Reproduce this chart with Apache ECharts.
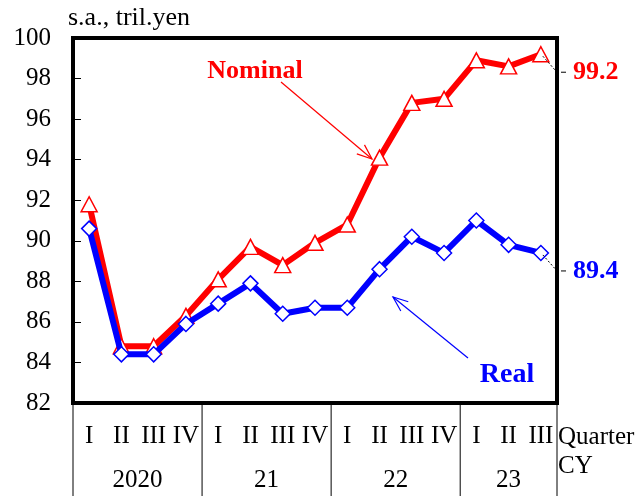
<!DOCTYPE html>
<html><head><meta charset="utf-8">
<script src="https://cdn.jsdelivr.net/npm/echarts@6/dist/echarts.min.js"></script>
<style>html,body{margin:0;padding:0;background:#fff}#c{width:636px;height:496px}</style>
</head><body><div id="c"></div>
<script>
var quarters = ['I','II','III','IV','I','II','III','IV','I','II','III','IV','I','II','III'];
var years = ['2020','21','22','23'];
var yearStart = [0,4,8,12];
var yearEnd = [3,7,11,14];
var nominal = [91.8,84.8,84.8,86.3,88.1,89.7,88.8,89.9,90.8,94.1,96.8,97.0,98.9,98.6,99.2];
var real = [90.6,84.4,84.4,85.9,86.9,87.9,86.4,86.7,86.7,88.6,90.2,89.4,91.0,89.8,89.4];
var yTicks = {min:82,max:100,interval:2};
var FONT = 'Liberation Serif';

var chart = echarts.init(document.getElementById('c'), null, {renderer:'canvas'});
var option = {
  animation:false,
  backgroundColor:'#fff',
  grid:{left:73,right:79,top:38,bottom:93,show:true,borderColor:'#000',borderWidth:4,backgroundColor:'transparent'},
  xAxis:{type:'category',data:quarters,boundaryGap:true,
    axisLine:{show:false},axisTick:{show:false},
    axisLabel:{fontFamily:FONT,fontSize:25,color:'#000',margin:21,interval:0}},
  yAxis:{type:'value',min:yTicks.min,max:yTicks.max,interval:yTicks.interval,
    axisLine:{show:false},splitLine:{show:false},
    axisTick:{show:true,inside:true,length:8,lineStyle:{color:'#000',width:1}},
    axisLabel:{fontFamily:FONT,fontSize:25,color:'#000',margin:22}},
  series:[
    {name:'Nominal',type:'line',data:nominal,z:2,
     lineStyle:{color:'#ff0000',width:6},
     symbol:'triangle',symbolSize:[16,15],showAllSymbol:true,
     itemStyle:{color:'#fff',borderColor:'#ff0000',borderWidth:1.5}},
    {name:'Real',type:'line',data:real,z:3,
     lineStyle:{color:'#0000ff',width:6},
     symbol:'diamond',symbolSize:[15,15],showAllSymbol:true,
     itemStyle:{color:'#fff',borderColor:'#0000ff',borderWidth:1.5}}
  ]
};
chart.setOption(option);

function px(i,v){return chart.convertToPixel({gridIndex:0},[i,v]);}
var g = [];
var gr = chart.getModel().getComponent('grid',0).coordinateSystem.getRect();
var left = gr.x, right = gr.x+gr.width, bottom = gr.y+gr.height;
var band = gr.width/quarters.length;
// table lines
var bounds = [left];
for (var k=0;k<years.length;k++){ bounds.push(left + (yearEnd[k]+1)*band); }
bounds.forEach(function(x){
  g.push({type:'line',shape:{x1:x,y1:bottom,x2:x,y2:496},style:{stroke:'#000',lineWidth:1}});
});
for (var k=0;k<years.length;k++){
  var x0 = left + yearStart[k]*band, x1 = left + (yearEnd[k]+1)*band;
  g.push({type:'text',x:(x0+x1)/2,y:480,style:{text:years[k],font:'25px "'+FONT+'"',fill:'#000',textAlign:'center',textVerticalAlign:'middle'}});
}
g.push({type:'text',x:right+1,y:437,style:{text:'Quarter',font:'25px "'+FONT+'"',fill:'#000',textAlign:'left',textVerticalAlign:'middle'}});
g.push({type:'text',x:right+1,y:466,style:{text:'CY',font:'25px "'+FONT+'"',fill:'#000',textAlign:'left',textVerticalAlign:'middle'}});
g.push({type:'text',x:68,y:18,style:{text:'s.a., tril.yen',font:'26px "'+FONT+'"',fill:'#000',textAlign:'left',textVerticalAlign:'middle'}});

// end labels with leaders
function endLabel(arr,color){
  var n = arr.length-1;
  var p = px(n,arr[n]);
  var ly = p[1]+18;
  g.push({type:'polyline',shape:{points:[[p[0]+2,p[1]+2],[right,ly]]},style:{stroke:'#000',lineWidth:1,lineDash:[2,2],fill:null},z:10});
  g.push({type:'line',shape:{x1:right+4,y1:ly,x2:right+9,y2:ly},style:{stroke:'#000',lineWidth:1},z:10});
  g.push({type:'text',x:right+16,y:ly,style:{text:arr[n].toFixed(1),font:'bold 26px "'+FONT+'"',fill:color,textAlign:'left',textVerticalAlign:'middle'},z:10});
}
endLabel(nominal,'#ff0000');
endLabel(real,'#0000ff');

// annotations with arrows
function arrow(a,b,color){
  g.push({type:'line',shape:{x1:a[0],y1:a[1],x2:b[0],y2:b[1]},style:{stroke:color,lineWidth:1.2},z:10});
  var ang = Math.atan2(b[1]-a[1],b[0]-a[0]), L=16, s=0.38;
  var h1=[b[0]-L*Math.cos(ang-s),b[1]-L*Math.sin(ang-s)];
  var h2=[b[0]-L*Math.cos(ang+s),b[1]-L*Math.sin(ang+s)];
  g.push({type:'polyline',shape:{points:[h1,b,h2]},style:{stroke:color,lineWidth:1.2,fill:null},z:10});
}
g.push({type:'text',x:255,y:71,style:{text:'Nominal',font:'bold 26px "'+FONT+'"',fill:'#ff0000',textAlign:'center',textVerticalAlign:'middle'},z:10});
arrow([281,82],[372,159],'#ff0000');
g.push({type:'text',x:507,y:375,style:{text:'Real',font:'bold 28px "'+FONT+'"',fill:'#0000ff',textAlign:'center',textVerticalAlign:'middle'},z:10});
arrow([468,358],[393,297],'#0000ff');

chart.setOption({graphic:{elements:g}});
</script></body></html>
